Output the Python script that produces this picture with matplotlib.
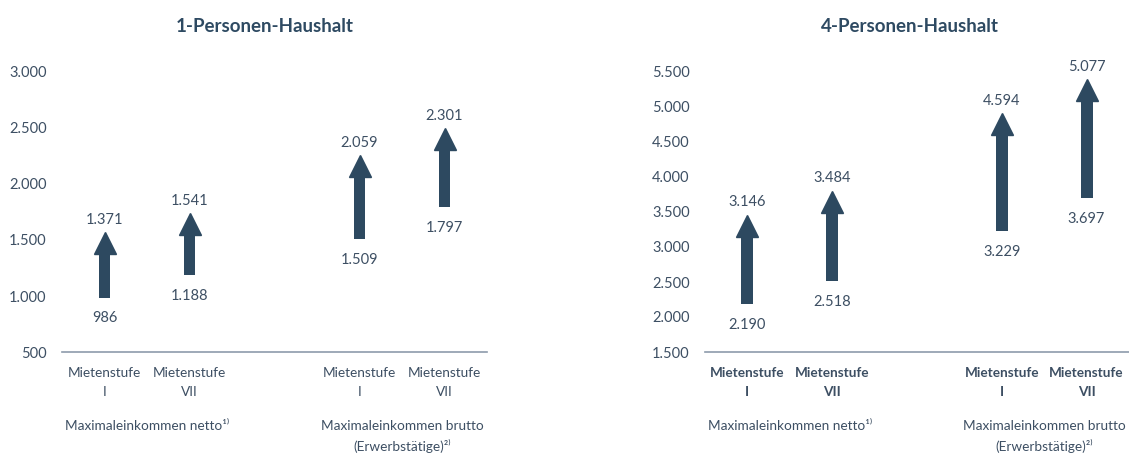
import matplotlib
matplotlib.use("Agg")
import matplotlib.pyplot as plt
from matplotlib.transforms import ScaledTranslation

plt.rcParams["font.family"] = ["Lato", "DejaVu Sans"]

titles = ["1-Personen-Haushalt", "4-Personen-Haushalt"]
categories = ["Mietenstufe\nI", "Mietenstufe\nVII", "Mietenstufe\nI", "Mietenstufe\nVII"]
groups = ["Maximaleinkommen netto¹⁾", "Maximaleinkommen brutto\n(Erwerbstätige)²⁾"]
one_low = [986, 1188, 1509, 1797]
one_high = [1371, 1541, 2059, 2301]
four_low = [2190, 2518, 3229, 3697]
four_high = [3146, 3484, 4594, 5077]
one_ticks = [500, 1000, 1500, 2000, 2500, 3000]
four_ticks = [1500, 2000, 2500, 3000, 3500, 4000, 4500, 5000, 5500]

ARROW = "#2d4960"
TEXT = "#3d4f63"
LINE = "#8d9bab"
xpos = [0, 1, 3, 4]


def de(v):
    return f"{v:,}".replace(",", ".")


fig = plt.figure(figsize=(11.29, 4.53), dpi=100)
boxes = [[62 / 1129, 101 / 453, 425 / 1129, 280 / 453], [705 / 1129, 101 / 453, 424 / 1129, 280 / 453]]
panels = [(one_low, one_high, one_ticks, False), (four_low, four_high, four_ticks, True)]
title_x = [265 / 1129, 910 / 1129]

for i, (box, (low, high, ticks, bold)) in enumerate(zip(boxes, panels)):
    ax = fig.add_axes(box)
    ax.set_xlim(-0.5, 4.5)
    ax.set_ylim(ticks[0], ticks[-1])
    # arrow = shaft (bar from low to high) + triangle head sitting on top
    ax.bar(xpos, [h - l for h, l in zip(high, low)], bottom=low, width=0.14, color=ARROW)
    head = ax.transData + ScaledTranslation(0, 8 / 72, fig.dpi_scale_trans)
    ax.plot(xpos, high, ls="none", marker="^", ms=15.5, color=ARROW, mec=ARROW, transform=head, clip_on=False)
    for x, l, h in zip(xpos, low, high):
        ax.annotate(de(h), (x, h), xytext=(0, 25), textcoords="offset points", ha="center", va="center",
                    fontsize=10.5, color=TEXT)
        ax.annotate(de(l), (x, l), xytext=(0, -15), textcoords="offset points", ha="center", va="center",
                    fontsize=10.5, color=TEXT)
    ax.set_yticks(ticks)
    ax.set_yticklabels([de(t) for t in ticks], fontsize=10.5, color=TEXT)
    ax.tick_params(axis="y", length=0, pad=11)
    ax.set_xticks([])
    for s in ["top", "right", "left"]:
        ax.spines[s].set_visible(False)
    ax.spines["bottom"].set_color(LINE)
    ax.spines["bottom"].set_linewidth(1.2)
    for x, c in zip(xpos, categories):
        ax.annotate(c, (x, ticks[0]), xytext=(0, -11), textcoords="offset points", ha="center", va="top",
                    fontsize=9.8, color=TEXT, fontweight="bold" if bold else "normal", linespacing=1.65,
                    annotation_clip=False)
    for x, g in zip([0.5, 3.5], groups):
        ax.annotate(g, (x, ticks[0]), xytext=(0, -49), textcoords="offset points", ha="center", va="top",
                    fontsize=9.8, color=TEXT, linespacing=1.55, annotation_clip=False)
    fig.text(title_x[i], 1 - 27 / 453, titles[i], ha="center", va="center", fontsize=13.5,
             fontweight="bold", color="#2e4a62")

fig.savefig("out.png", dpi=100, facecolor="white")
